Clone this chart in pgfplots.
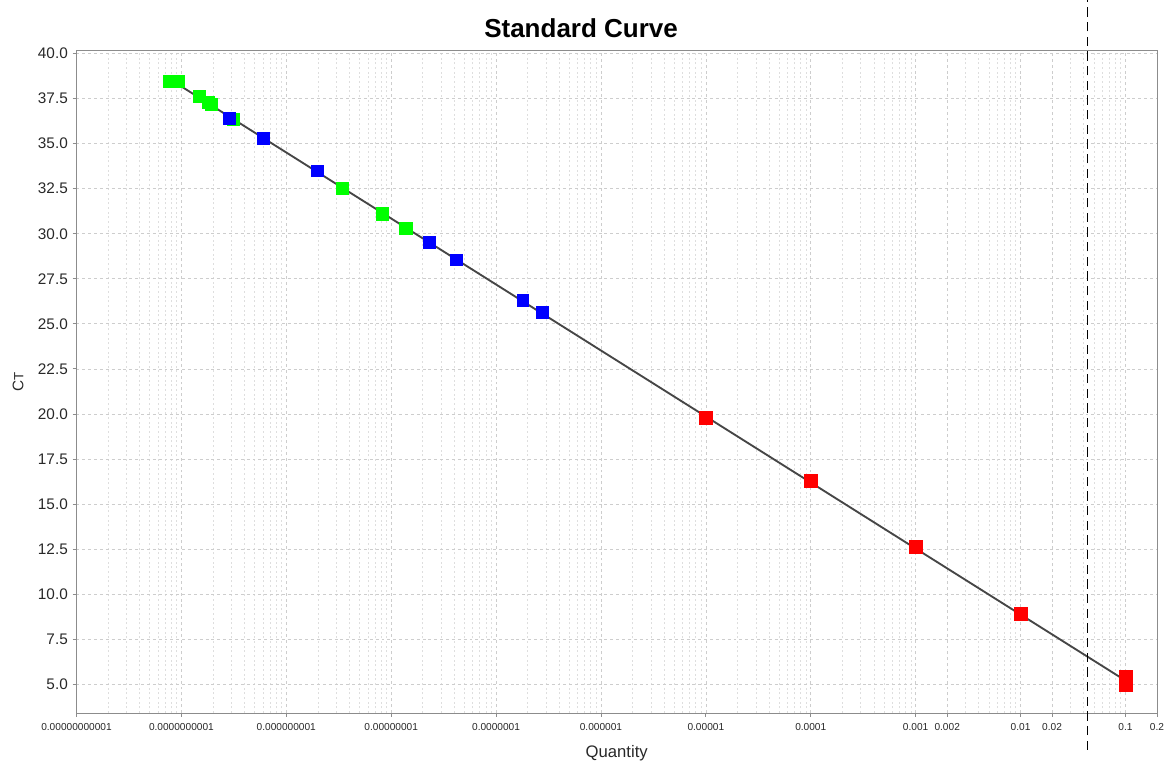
\documentclass[border=0pt]{standalone}
\usepackage{pgfplots}
\pgfplotsset{compat=1.18}
\usepackage{fontspec}
\setmainfont{Liberation Sans}
\definecolor{ggreen}{RGB}{0,255,0}
\definecolor{bblue}{RGB}{0,0,255}
\definecolor{rred}{RGB}{255,0,0}
\definecolor{lineg}{RGB}{70,70,70}
\definecolor{gridc}{RGB}{205,205,205}
\definecolor{minorc}{RGB}{222,222,222}
\definecolor{framec}{RGB}{140,140,140}
\definecolor{labc}{RGB}{40,40,40}
\begin{document}
\begin{tikzpicture}
\begin{axis}[
  scale only axis=true,
  width=810.4pt, height=497.25pt,
  xmode=log, log basis x=10,
  xmin=1e-11, xmax=0.2,
  ymin=3.4, ymax=40.2,
  axis line style={framec, line width=0.6pt},
  tick align=outside,
  xtick pos=left, ytick pos=left,
  major tick length=3pt, minor tick length=0pt,
  tick style={framec, line width=0.6pt},
  xtick={1e-11,1e-10,1e-9,1e-8,1e-7,1e-6,1e-5,1e-4,1e-3,2e-3,1e-2,2e-2,1e-1,2e-1},
  xticklabels={0.00000000001,0.0000000001,0.000000001,0.00000001,0.0000001,0.000001,0.00001,0.0001,0.001,0.002,0.01,0.02,0.1,0.2},
  minor xtick={2e-11,3e-11,4e-11,5e-11,6e-11,7e-11,8e-11,9e-11,
    2e-10,3e-10,4e-10,5e-10,6e-10,7e-10,8e-10,9e-10,
    2e-9,3e-9,4e-9,5e-9,6e-9,7e-9,8e-9,9e-9,
    2e-8,3e-8,4e-8,5e-8,6e-8,7e-8,8e-8,9e-8,
    2e-7,3e-7,4e-7,5e-7,6e-7,7e-7,8e-7,9e-7,
    2e-6,3e-6,4e-6,5e-6,6e-6,7e-6,8e-6,9e-6,
    2e-5,3e-5,4e-5,5e-5,6e-5,7e-5,8e-5,9e-5,
    2e-4,3e-4,4e-4,5e-4,6e-4,7e-4,8e-4,9e-4,
    3e-3,4e-3,5e-3,6e-3,7e-3,8e-3,9e-3,
    3e-2,4e-2,5e-2,6e-2,7e-2,8e-2,9e-2},
  ytick={5,7.5,10,12.5,15,17.5,20,22.5,25,27.5,30,32.5,35,37.5,40},
  yticklabel style={font=\fontsize{11.5}{12}\selectfont, text=labc},
  yticklabel style={/pgf/number format/fixed, /pgf/number format/fixed zerofill, /pgf/number format/precision=1, /pgf/number format/assume math mode=true},
  xticklabel style={font=\fontsize{7.6}{8}\selectfont, text=labc, yshift=-1.5pt},
  xmajorgrids=true, xminorgrids=true, ymajorgrids=true,
  major grid style={gridc, dash pattern=on 2.2pt off 2.2pt, line width=0.5pt},
  minor grid style={minorc, dash pattern=on 1.5pt off 2pt, line width=0.5pt},
  xlabel={Quantity},
  xlabel style={at={(axis description cs:0.5,0)}, anchor=center, yshift=-30pt, font=\fontsize{12.5}{13}\selectfont, text=labc},
  ylabel={C{\fontsize{10}{10}\selectfont T}},
  ylabel style={at={(axis description cs:-0.0541,0.5)}, anchor=center, font=\fontsize{11.5}{12}\selectfont, text=labc},
  clip=false,
]
% fitted standard curve
\addplot[lineg, line width=1.4pt, no markers] coordinates {(7.9e-11,38.55) (0.1,5.2)};
% green series
\addplot[only marks, mark=square*, mark size=4.6pt, mark options={ggreen, draw=ggreen}] coordinates {
 (7.76e-11,38.45) (9.23e-11,38.45) (1.47e-10,37.63) (1.80e-10,37.30) (1.93e-10,37.20)
 (3.13e-10,36.35) (3.44e-9,32.54) (8.22e-9,31.11) (1.38e-8,30.32)};
% blue series
\addplot[only marks, mark=square*, mark size=4.4pt, mark options={bblue, draw=bblue}] coordinates {
 (2.88e-10,36.43) (6.07e-10,35.28) (1.97e-9,33.50) (2.30e-8,29.52) (4.19e-8,28.56)
 (1.80e-7,26.30) (2.75e-7,25.63)};
% red series
\addplot[only marks, mark=square*, mark size=4.9pt, mark options={rred, draw=rred}] coordinates {
 (1e-5,19.80) (1e-4,16.28) (1e-3,12.63) (1e-2,8.93) (0.1,5.42) (0.1,4.97)};
% dashed vertical marker
\addplot[black, line width=1.2pt, dash pattern=on 7pt off 4pt, no markers] coordinates {(0.0435,1.35) (0.0435,43.0)};
\node[font=\bfseries\fontsize{19.5}{20}\selectfont, text=black] at (rel axis cs:0.467,1.033) {Standard Curve};
\coordinate (bl) at (rel axis cs:0,0);
\coordinate (tr) at (rel axis cs:1,1);
\end{axis}
\pgfresetboundingbox
\path ([shift={(-57.4pt,-36.75pt)}]bl) rectangle ([shift={(8.25pt,37.5pt)}]tr);
\end{tikzpicture}
\end{document}
